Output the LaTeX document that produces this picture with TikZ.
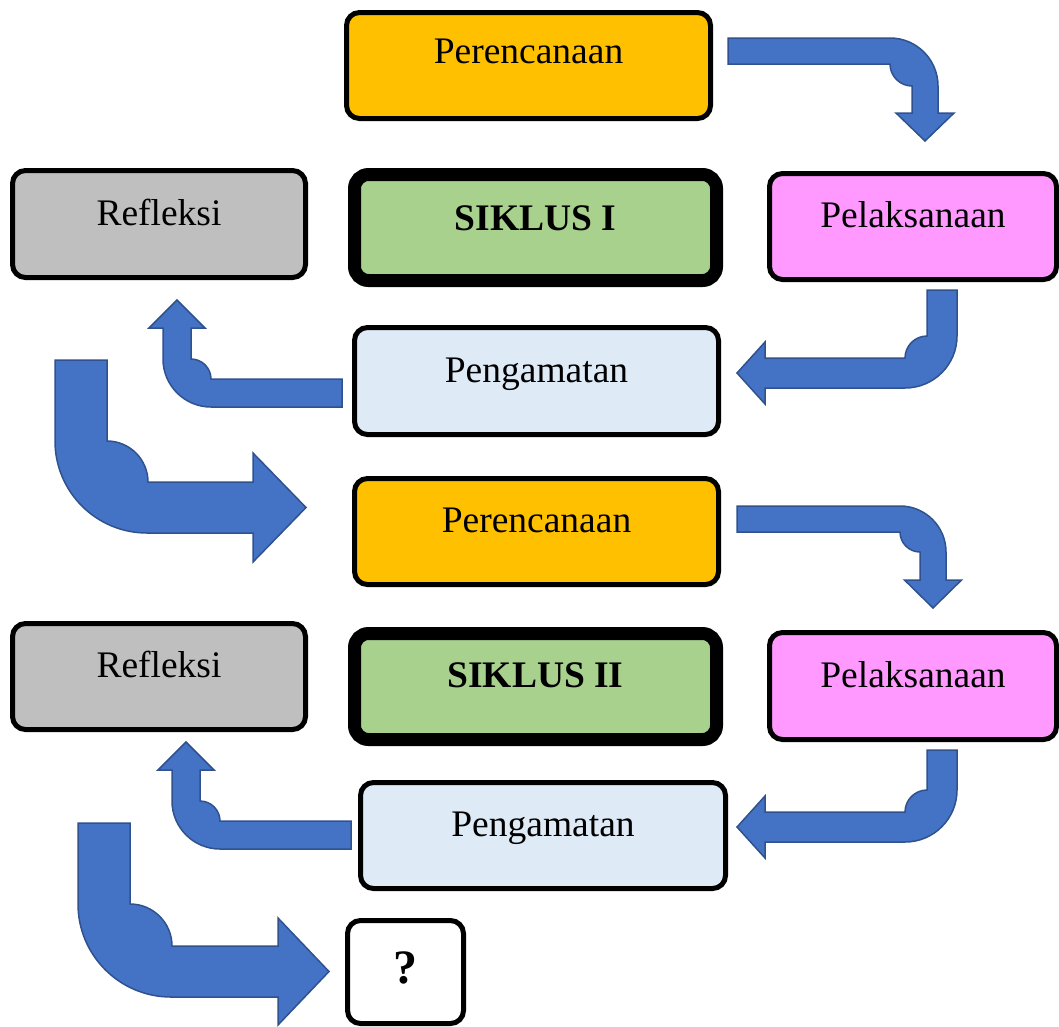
\documentclass[tikz,border=0pt]{standalone}
\usepackage{fontspec}
\setmainfont{Liberation Serif}
\definecolor{planc}{HTML}{FFC000}
\definecolor{refc}{HTML}{BFBFBF}
\definecolor{sikc}{HTML}{A9D18E}
\definecolor{pelc}{HTML}{FF99FF}
\definecolor{obsc}{HTML}{DEEBF7}
\definecolor{arrfill}{HTML}{4472C4}
\definecolor{arrdraw}{HTML}{2F528F}
\begin{document}
\begin{tikzpicture}[x=1pt,y=-1pt,
  box/.style={draw=black, line width=5pt, rounded corners=13pt,
    font=\fontsize{37.5}{44}\selectfont, text height=26pt, text depth=24pt,
    inner sep=0pt},
  cyclebox/.style={box, line width=13pt, rounded corners=14pt, font=\fontsize{37.5}{44}\selectfont\bfseries},
  barrow/.style={fill=arrfill, draw=arrdraw, line width=1.5pt, line join=miter}]
\useasboundingbox (0,0) rectangle (1059,1026);

% bent block arrows
\path[barrow] (728,38) -- (890,38) .. controls (916.5,38) and (938,59.5) .. (938,86)
  -- (938,113) -- (954,113) -- (925,141) -- (896,113) -- (912,113) -- (912,86)
  .. controls (899.9,86) and (890,76.1) .. (890,64) -- (728,64) -- cycle;
\path[barrow] (927,290) -- (957,290) -- (957,336) .. controls (957,364.7) and (933.7,388) .. (905,388)
  -- (765,388) -- (765,404) -- (737,373) -- (765,342) -- (765,358) -- (905,358)
  .. controls (905,345.9) and (914.9,336) .. (927,336) -- cycle;
\path[barrow] (342,379) -- (211,379) .. controls (211,368) and (202,359) .. (191,359)
  -- (191,328) -- (205,328) -- (177,300) -- (149,328) -- (163,328) -- (163,359)
  .. controls (163,385.5) and (184.5,407) .. (211,407) -- (342,407) -- cycle;
\path[barrow] (55,360) -- (107,360) -- (107,441) .. controls (129.6,441) and (148,459.4) .. (148,482)
  -- (253,482) -- (253,453) -- (306,507.5) -- (253,562) -- (253,533) -- (147,533)
  .. controls (96.2,533) and (55,491.8) .. (55,441) -- cycle;
\path[barrow] (737,506) -- (900,506) .. controls (925.4,506) and (946,526.6) .. (946,552)
  -- (946,580) -- (961.5,580) -- (933,608) -- (904.5,580) -- (920,580) -- (920,552)
  .. controls (909,552) and (900,543) .. (900,532) -- (737,532) -- cycle;
\path[barrow] (927,750) -- (957,750) -- (957,790) .. controls (957,818.7) and (933.7,842) .. (905,842)
  -- (765,842) -- (765,858) -- (737,827) -- (765,796) -- (765,812) -- (905,812)
  .. controls (905,799.9) and (914.9,790) .. (927,790) -- cycle;
\begin{scope}[shift={(9,442)}]
\path[barrow] (342,379) -- (211,379) .. controls (211,368) and (202,359) .. (191,359)
  -- (191,328) -- (205,328) -- (177,300) -- (149,328) -- (163,328) -- (163,359)
  .. controls (163,385.5) and (184.5,407) .. (211,407) -- (342,407) -- cycle;
\end{scope}
\path[barrow] (78,823) -- (130,823) -- (130,904) .. controls (153.2,904) and (172,922.8) .. (172,946)
  -- (278,946) -- (278,918) -- (329,971.5) -- (278,1025) -- (278,997) -- (171,997)
  .. controls (119.7,997) and (78,955.3) .. (78,904) -- cycle;

% boxes
\node[box, fill=planc, minimum width=364pt, minimum height=106pt, text depth=31pt] (plan1) at (528.5,65.5) {Perencanaan};
\node[box, fill=refc, minimum width=293pt, minimum height=107pt] (ref1) at (159,224) {Refleksi};
\node[cyclebox, fill=sikc, minimum width=362pt, minimum height=106pt, text depth=20pt] (sik1) at (535.5,227.5) {SIKLUS I};
\node[box, fill=pelc, minimum width=287pt, minimum height=106pt] (pel1) at (913,226.5) {Pelaksanaan};
\node[box, fill=obsc, minimum width=364pt, minimum height=107pt] (obs1) at (536.5,381) {Pengamatan};

\node[box, fill=planc, minimum width=364pt, minimum height=106pt] (plan2) at (536.5,531.5) {Perencanaan};
\node[box, fill=refc, minimum width=293pt, minimum height=106pt] (ref2) at (159,676.5) {Refleksi};
\node[cyclebox, fill=sikc, minimum width=362pt, minimum height=106pt] (sik2) at (535.5,686.5) {SIKLUS II};
\node[box, fill=pelc, minimum width=287pt, minimum height=107pt] (pel2) at (913,686) {Pelaksanaan};
\node[box, fill=obsc, minimum width=365pt, minimum height=106pt] (obs2) at (543,835.5) {Pengamatan};
\node[box, fill=white, minimum width=116pt, minimum height=103pt, font=\fontsize{48}{56}\selectfont\bfseries, text height=36pt, text depth=14pt] (next) at (405.5,972) {?};
\end{tikzpicture}
\end{document}
